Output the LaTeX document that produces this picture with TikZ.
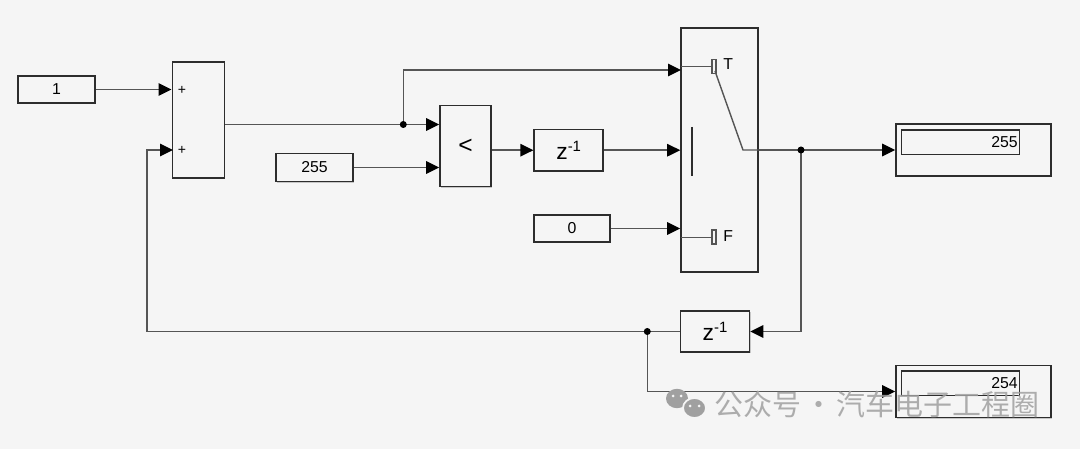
\documentclass[tikz,border=0pt]{standalone}
\usepackage{fontspec}
\setmainfont{Liberation Sans}
\newfontfamily\cjk{Noto Sans CJK SC}
\usetikzlibrary{arrows.meta,shadows}

\definecolor{bgcol}{RGB}{245,245,245}
\definecolor{wirecol}{RGB}{85,85,85}
\definecolor{blkcol}{RGB}{45,45,45}
\definecolor{markcol}{RGB}{160,160,160}

\newcommand{\zinv}{{\fontsize{13}{15}\selectfont z}\raisebox{0.9ex}{\fontsize{8.5}{10}\selectfont -1}}

\tikzset{
  blk/.style={draw=blkcol, line width=0.9pt, fill=bgcol, inner sep=0pt,
    drop shadow={shadow xshift=0.6pt, shadow yshift=-0.6pt, fill=black!40, opacity=0.5}},
  num/.style={font=\fontsize{9}{11}\selectfont},
  wire/.style={draw=wirecol, line width=0.8pt, -{Triangle[length=0.26cm, width=0.25cm, color=black]}},
  plain/.style={draw=wirecol, line width=0.8pt},
}

\begin{document}
\begin{tikzpicture}[x=0.02cm, y=-0.02cm]
  \useasboundingbox[fill=bgcol] (0,0) rectangle (1080,449);

  % Constants
  \node[blk, num, minimum width=1.54cm, minimum height=0.54cm] (one) at (56.5,89.5) {1};
  \node[blk, num, minimum width=1.54cm, minimum height=0.56cm] (lim) at (314.5,167.5) {255};
  \node[blk, num, minimum width=1.52cm, minimum height=0.54cm] (zero) at (572,228.5) {0};

  % Sum, compare and delays
  \node[blk, minimum width=1.04cm, minimum height=2.31cm] (sum) at (198.3,120) {};
  \node[font=\fontsize{8}{9}\selectfont, inner sep=0pt] (plusA) at (182,90.5) {+};
  \node[font=\fontsize{8}{9}\selectfont, inner sep=0pt] (plusB) at (182,150.5) {+};
  \node[blk, font=\fontsize{14}{16}\selectfont, minimum width=1.02cm, minimum height=1.62cm] (cmp) at (465.5,146.2) {<};
  \node[blk, minimum width=1.38cm, minimum height=0.83cm] (dlyA) at (568.7,150.2) {\zinv};
  \node[blk, minimum width=1.38cm, minimum height=0.83cm] (dlyB) at (715,331.5) {\zinv};

  % Switch
  \node[blk, minimum width=1.54cm, minimum height=4.88cm] (sw) at (719.5,150) {};
  \draw[plain] (681,66.7) -- (712,66.7);
  \draw[plain, fill=bgcol] (712,59.5) rectangle (716,73.5);
  \draw[plain] (715,71) -- (743,150) -- (sw.east);
  \draw[blkcol, line width=0.6pt] (692,127) -- (692,176);
  \draw[plain] (681,237.3) -- (712,237.3);
  \draw[plain, fill=bgcol] (712,230) rectangle (716,244);
  \node[num, anchor=west, inner sep=0pt] (tLab) at (723,64) {T};
  \node[num, anchor=west, inner sep=0pt] (fLab) at (723,236) {F};

  % Displays
  \node[blk, minimum width=3.1cm, minimum height=1.04cm] (dispA) at (973.5,150) {};
  \node[draw=blkcol, line width=0.7pt, num, anchor=north west, minimum height=0.49cm,
        text width=2.3cm, align=right, inner xsep=0.03cm, inner ysep=0pt] (valA) at (900.7,129.3) {255};
  \node[blk, minimum width=3.1cm, minimum height=1.04cm] (dispB) at (973.5,391.5) {};
  \node[draw=blkcol, line width=0.7pt, num, anchor=north west, minimum height=0.49cm,
        text width=2.3cm, align=right, inner xsep=0.03cm, inner ysep=0pt] (valB) at (900.7,370.3) {254};

  % Branch points
  \coordinate (jA) at (403.3,124.5);
  \coordinate (jB) at (801,150);
  \coordinate (jC) at (647.3,331.5);
  \coordinate (sumIn) at (173,150);
  \coordinate (swT) at (681,70);
  \coordinate (fb) at (147,331.5);

  % Signal lines
  \draw[wire] (one.east) -- (one.east -| sum.west);
  \draw[wire] (sum.east |- jA) -- (cmp.west |- jA);
  \draw[wire] (jA) |- (swT);
  \draw[wire] (lim.east) -- (lim.east -| cmp.west);
  \draw[wire] (cmp.east |- dlyA.west) -- (dlyA.west);
  \draw[wire] (dlyA.east) -- (dlyA.east -| sw.west);
  \draw[wire] (zero.east) -- (zero.east -| sw.west);
  \draw[wire] (sw.east) -- (dispA.west);
  \draw[wire] (jB) |- (dlyB.east);
  \draw[plain] (dlyB.west) -- (jC);
  \draw[wire] (jC) -- (fb) |- (sumIn);
  \draw[wire] (jC) |- (dispB.west);
  \foreach \j in {jA,jB,jC} \fill (\j) circle (0.07cm);

  % Watermark
  \fill[markcol] (677,398.5) ellipse (0.22cm and 0.194cm);
  \filldraw[fill=markcol, draw=bgcol, line width=1pt] (694.5,408) ellipse (0.23cm and 0.2cm);
  \foreach \e in {(673,396),(681,396),(690,406),(699,406)} \fill[bgcol] \e circle (0.03cm);
  \node[anchor=west, inner sep=0pt, text=markcol, opacity=0.85,
        font=\cjk\fontsize{16.5}{18}\selectfont] (mark) at (714,404) {公众号\hspace{0.1em}·\hspace{0.1em}汽车电子工程圈};
\end{tikzpicture}
\end{document}
